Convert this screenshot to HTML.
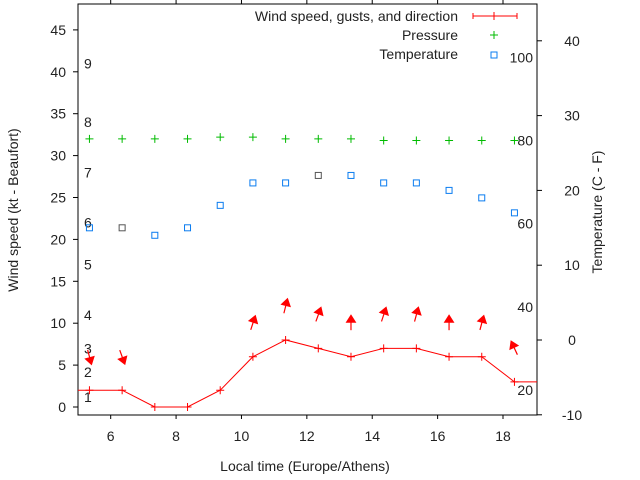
<!DOCTYPE html>
<html><head><meta charset="utf-8"><style>
body{margin:0;background:#fff}
svg{display:block;font-family:"Liberation Sans",sans-serif}
</style></head><body>
<svg id="c" width="640" height="480" viewBox="0 0 640 480"></svg>
<script>
const hours=[5.35,6.35,7.35,8.35,9.35,10.35,11.35,12.35,13.35,14.35,15.35,16.35,17.35,18.35];
const wind=[2,2,0,0,2,6,8,7,6,7,7,6,6,3];
const windDir=[165,160,null,null,null,18,14,20,0,18,15,0,15,335];
const pressure=[32,32,32,32,32.2,32.2,32,32,32,31.8,31.8,31.8,31.8,31.8];
const temperature=[15,15,14,15,18,21,21,22,22,21,21,20,19,17];
const xTicks=[6,8,10,12,14,16,18];
const yTicks=[0,5,10,15,20,25,30,35,40,45];
const y2Ticks=[-10,0,10,20,30,40];
const beaufort=[[1,1.2],[2,4.2],[3,7],[4,11],[5,17],[6,22],[7,28],[8,34],[9,41]];
const fahr=[[20,-6.7],[40,4.4],[60,15.6],[80,26.7],[100,37.8]];

const L=78,R=537,T=4,B=415;
const xmin=5,xmax=19.04;
const X=v=>L+(v-xmin)/(xmax-xmin)*(R-L);
const Y=v=>407-v*8.38;
const Y2=v=>340-v*7.48;
const svg=document.getElementById('c');
const NS='http://www.w3.org/2000/svg';
function mk(t,a,p){const e=document.createElementNS(NS,t);for(const k in a)e.setAttribute(k,a[k]);(p||svg).appendChild(e);return e;}

const defs=mk('defs',{});
const cp=mk('clipPath',{id:'clip'},defs);mk('rect',{x:L,y:T,width:R-L,height:B-T},cp);

let e=mk('rect',{x:L,y:T,width:R-L,height:B-T,fill:'none',stroke:'#000','stroke-width':1});


xTicks.forEach(v=>{
 const x=X(v);
 mk('line',{x1:x,y1:B,x2:x,y2:B+4,stroke:'#000'});
 mk('line',{x1:x,y1:T,x2:x,y2:T-4,stroke:'#000'});
 const t=mk('text',{x:x,y:B+26,'text-anchor':'middle','font-size':14,fill:'#222'});t.textContent=v;
 
});
yTicks.forEach(v=>{
 const y=Y(v);
 mk('line',{x1:L-5,y1:y,x2:L,y2:y,stroke:'#000'});
 const t=mk('text',{x:L-12,y:y+5,'text-anchor':'end','font-size':14,fill:'#222'});t.textContent=v;
 
});
y2Ticks.forEach(v=>{
 const y=Y2(v);
 mk('line',{x1:R,y1:y,x2:R+5,y2:y,stroke:'#000'});
 const t=mk('text',{x:R+35,y:y+5,'text-anchor':'middle','font-size':14,fill:'#222'});t.textContent=v;
 
});
beaufort.forEach(([n,v])=>{
 const t=mk('text',{x:84,y:Y(v)+5,'font-size':14,fill:'#222'});t.textContent=n;
 
});
fahr.forEach(([n,v])=>{
 const t=mk('text',{x:533,y:Y2(v)+5,'text-anchor':'end','font-size':14,fill:'#222'});t.textContent=n;
 
});

const g=mk('g',{'clip-path':'url(#clip)'});
let pts=[[X(hours[0]-1),Y(wind[0])]];
hours.forEach((h,i)=>pts.push([X(h),Y(wind[i])]));
pts.push([X(hours[hours.length-1]+1),Y(wind[wind.length-1])]);
e=mk('polyline',{points:pts.map(p=>p.join(',')).join(' '),fill:'none',stroke:'#f00','stroke-width':1},g);

hours.forEach((h,i)=>{
 const x=X(h),y=Y(wind[i]);
 const p=mk('path',{d:`M${x-4},${y}H${x+4}M${x},${y-4}V${y+4}`,stroke:'#f00'},g);
 
 const d=windDir[i];
 if(d!==null){
  const cx=x,cy=Y(wind[i]+4),a=d*Math.PI/180,len=14;
  const dx=Math.sin(a),dy=-Math.cos(a);
  const hx=cx+dx*len/2,hy=cy+dy*len/2,tx=cx-dx*len/2,ty=cy-dy*len/2;
  const ar=mk('g',{},g);
  
  mk('line',{x1:tx,y1:ty,x2:hx,y2:hy,stroke:'#f00','stroke-width':1.2},ar);
  const px=-dy,py=dx;
  const bx=hx-dx*6,by=hy-dy*6;
  mk('polygon',{points:`${hx+dx},${hy+dy} ${bx+px*4.5},${by+py*4.5} ${bx-px*4.5},${by-py*4.5}`,fill:'#f00',stroke:'#f00','stroke-width':1},ar);
 }
 const py0=Y(pressure[i]);
 const pp=mk('path',{d:`M${x-4},${py0}H${x+4}M${x},${py0-4}V${py0+4}`,stroke:'#0b0'},g);
 
 const ty2=Y2(temperature[i]);
 const sq=mk('rect',{x:x-3,y:ty2-3,width:6,height:6,fill:'none',stroke:(i==1||i==7)?'#555':'#0a7cf0','stroke-width':1},g);
 
});

const leg=[['Wind speed, gusts, and direction',16],['Pressure',35],['Temperature',54]];
leg.forEach(([s,y],i)=>{
 const t=mk('text',{x:458,y:y+5,'text-anchor':'end','font-size':14,fill:'#222'});t.textContent=s;
 
});
mk('path',{d:'M473,16H517M473,13V19M517,13V19M494,12V20',stroke:'#f00',fill:'none'});
mk('path',{d:'M490,35H498M494,31V39',stroke:'#0b0'});
mk('rect',{x:491,y:52,width:6,height:6,fill:'none',stroke:'#0a7cf0'});

let t=mk('text',{x:305,y:471,'text-anchor':'middle','font-size':14,fill:'#222'});t.textContent='Local time (Europe/Athens)';

t=mk('text',{transform:'translate(18,210) rotate(-90)','text-anchor':'middle','font-size':14,fill:'#222'});t.textContent='Wind speed (kt - Beaufort)';

t=mk('text',{transform:'translate(602,212) rotate(-90)','text-anchor':'middle','font-size':14,fill:'#222'});t.textContent='Temperature (C - F)';

</script>
</body></html>
